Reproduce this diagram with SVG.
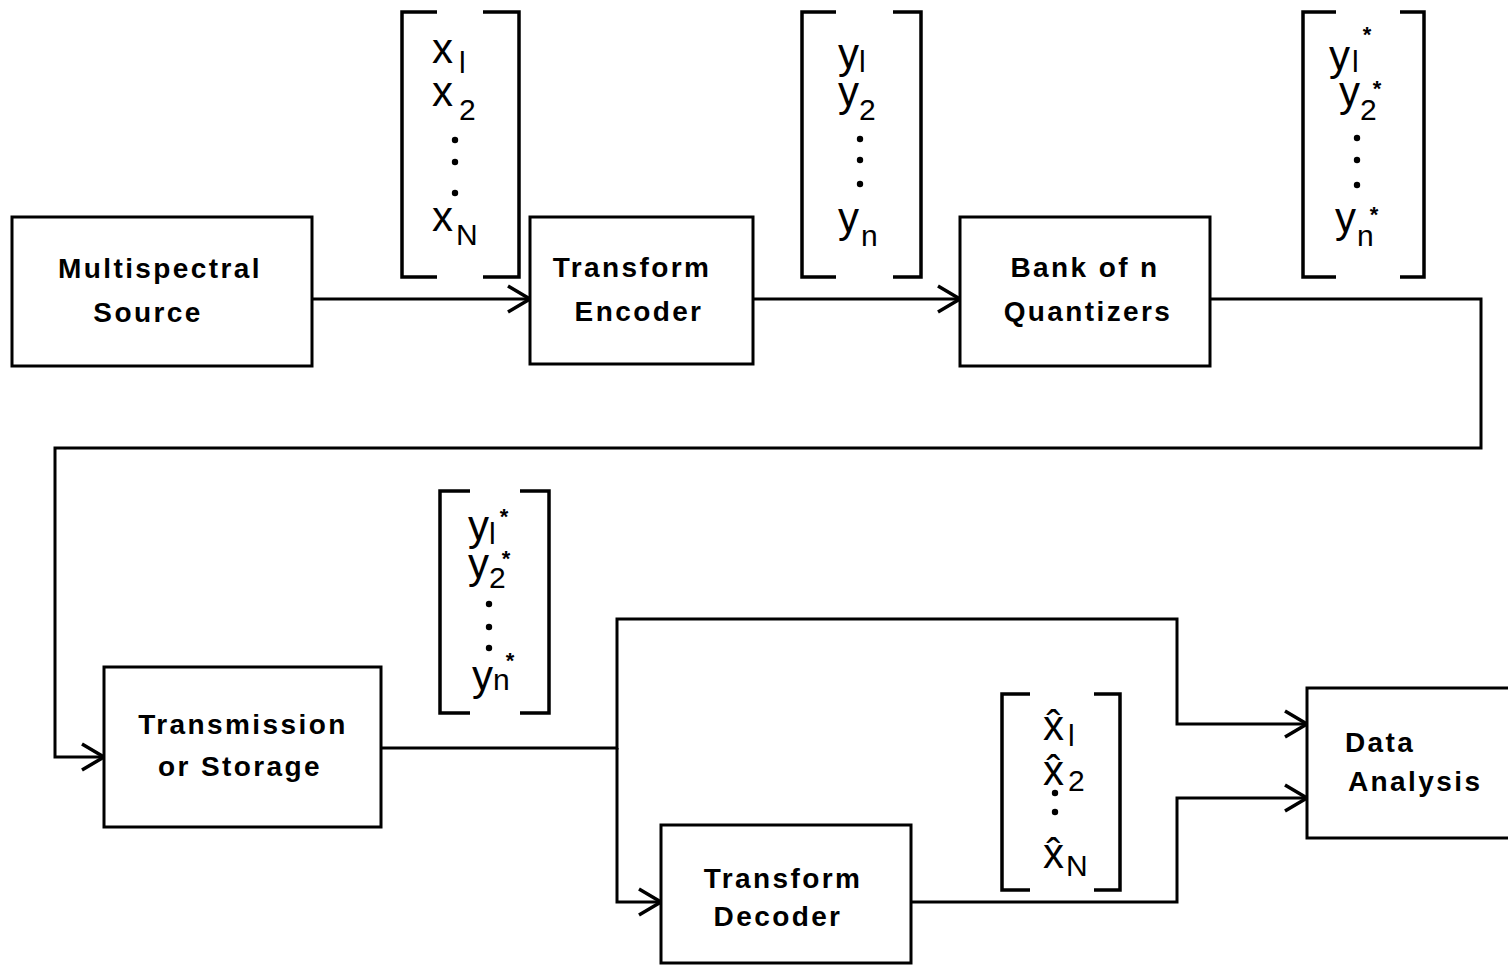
<svg xmlns="http://www.w3.org/2000/svg" width="1508" height="965" viewBox="0 0 1508 965">
<style>
.box{fill:#fff;stroke:#000;stroke-width:3}
.lbl{font-family:"Liberation Sans",Arial,sans-serif;font-weight:bold;font-size:28px;letter-spacing:2.4px;fill:#000}
.v{font-family:"Liberation Sans","DejaVu Sans",Arial,sans-serif;font-size:42px;fill:#000}
.s{font-size:30px}
.a{font-size:22px;font-weight:bold}
.br{fill:none;stroke:#000;stroke-width:3.5}
.ln{fill:none;stroke:#000;stroke-width:3}
.ah{fill:none;stroke:#000;stroke-width:3.5}
</style>
<rect width="1508" height="965" fill="#fff"/>
<g id="connectors">
<path class="ln" d="M312 299H530"/>
<path class="ah" d="M508 286L530 299L508 312"/>
<path class="ln" d="M753 299H960"/>
<path class="ah" d="M938 286L960 299L938 312"/>
<path class="ln" d="M1210 299H1481V448H55V757H104"/>
<path class="ah" d="M82 744L104 757L82 770"/>
<path class="ln" d="M381 748H617V619H1177V724H1307"/>
<path class="ah" d="M1285 711L1307 724L1285 737"/>
<path class="ln" d="M617 748V902H661"/>
<path class="ah" d="M639 889L661 902L639 915"/>
<path class="ln" d="M911 902H1177V798H1307"/>
<path class="ah" d="M1285 785L1307 798L1285 811"/>
</g>
<g id="source"><rect class="box" x="12" y="217" width="300" height="149"/><text class="lbl" x="160" y="278" text-anchor="middle">Multispectral</text><text class="lbl" x="148" y="322" text-anchor="middle">Source</text></g>
<g id="encoder"><rect class="box" x="530" y="217" width="223" height="147"/><text class="lbl" x="632" y="277" text-anchor="middle">Transform</text><text class="lbl" x="639" y="321" text-anchor="middle">Encoder</text></g>
<g id="quantizers"><rect class="box" x="960" y="217" width="250" height="149"/><text class="lbl" x="1085" y="277" text-anchor="middle">Bank of n</text><text class="lbl" x="1088" y="321" text-anchor="middle">Quantizers</text></g>
<g id="transmission"><rect class="box" x="104" y="667" width="277" height="160"/><text class="lbl" x="243" y="734" text-anchor="middle">Transmission</text><text class="lbl" x="240" y="776" text-anchor="middle">or Storage</text></g>
<g id="decoder"><rect class="box" x="661" y="825" width="250" height="138"/><text class="lbl" x="783" y="888" text-anchor="middle">Transform</text><text class="lbl" x="778" y="926" text-anchor="middle">Decoder</text></g>
<g id="analysis"><rect class="box" x="1307" y="688" width="210" height="150"/><text class="lbl" x="1345" y="752">Data</text><text class="lbl" x="1348" y="791">Analysis</text></g>
<g id="vec-x">
<path class="br" d="M437 12H402V277H437M483 12H519V277H483"/>
<text class="v" x="432" y="63">x<tspan class="s" dx="6" dy="10">l</tspan></text>
<text class="v" x="432" y="106">x<tspan class="s" dx="6" dy="14">2</tspan></text>
<circle cx="455" cy="140" r="3.2"/><circle cx="455" cy="162" r="3.2"/><circle cx="455" cy="193" r="3.2"/>
<text class="v" x="432" y="231">x<tspan class="s" dx="3" dy="14">N</tspan></text>
</g>
<g id="vec-y">
<path class="br" d="M836 12H802V277H836M893 12H921V277H893"/>
<text class="v" x="838" y="68">y<tspan class="s" dy="4">l</tspan></text>
<text class="v" x="838" y="106">y<tspan class="s" dy="14">2</tspan></text>
<circle cx="860" cy="139" r="3.2"/><circle cx="860" cy="160" r="3.2"/><circle cx="860" cy="184" r="3.2"/>
<text class="v" x="838" y="232">y<tspan class="s" dx="2" dy="14">n</tspan></text>
</g>
<g id="vec-ystar">
<path class="br" d="M1336 12H1303V277H1336M1400 12H1424V277H1400"/>
<text class="v" x="1329" y="70">y<tspan class="s" dx="2" dy="2">l</tspan><tspan class="a" dx="4" dy="-30">*</tspan></text>
<text class="v" x="1339" y="106">y<tspan class="s" dy="14">2</tspan><tspan class="a" dx="-4" dy="-24">*</tspan></text>
<circle cx="1357" cy="138" r="3.2"/><circle cx="1357" cy="160" r="3.2"/><circle cx="1357" cy="185" r="3.2"/>
<text class="v" x="1335" y="232">y<tspan class="s" dx="1" dy="14">n</tspan><tspan class="a" dx="-4" dy="-24">*</tspan></text>
</g>
<g id="vec-ystar2">
<path class="br" d="M470 491H440V713H470M520 491H549V713H520"/>
<text class="v" x="468" y="540">y<tspan class="s" dy="4">l</tspan><tspan class="a" dx="4" dy="-20">*</tspan></text>
<text class="v" x="468" y="578">y<tspan class="s" dy="10">2</tspan><tspan class="a" dx="-4" dy="-22">*</tspan></text>
<circle cx="489" cy="604" r="3.2"/><circle cx="489" cy="627" r="3.2"/><circle cx="489" cy="648" r="3.2"/>
<text class="v" x="472" y="690">y<tspan class="s">n</tspan><tspan class="a" dx="-4" dy="-22">*</tspan></text>
</g>
<g id="vec-xhat">
<path class="br" d="M1030 694H1002V890H1030M1094 694H1120V890H1094"/>
<text class="v" x="1043" y="740">x̂<tspan class="s" dx="4" dy="6">l</tspan></text>
<text class="v" x="1043" y="785">x̂<tspan class="s" dx="4" dy="6">2</tspan></text>
<circle cx="1055" cy="793" r="3.2"/><circle cx="1055" cy="812" r="3.2"/>
<text class="v" x="1043" y="868">x̂<tspan class="s" dx="2" dy="8">N</tspan></text>
</g>
</svg>
